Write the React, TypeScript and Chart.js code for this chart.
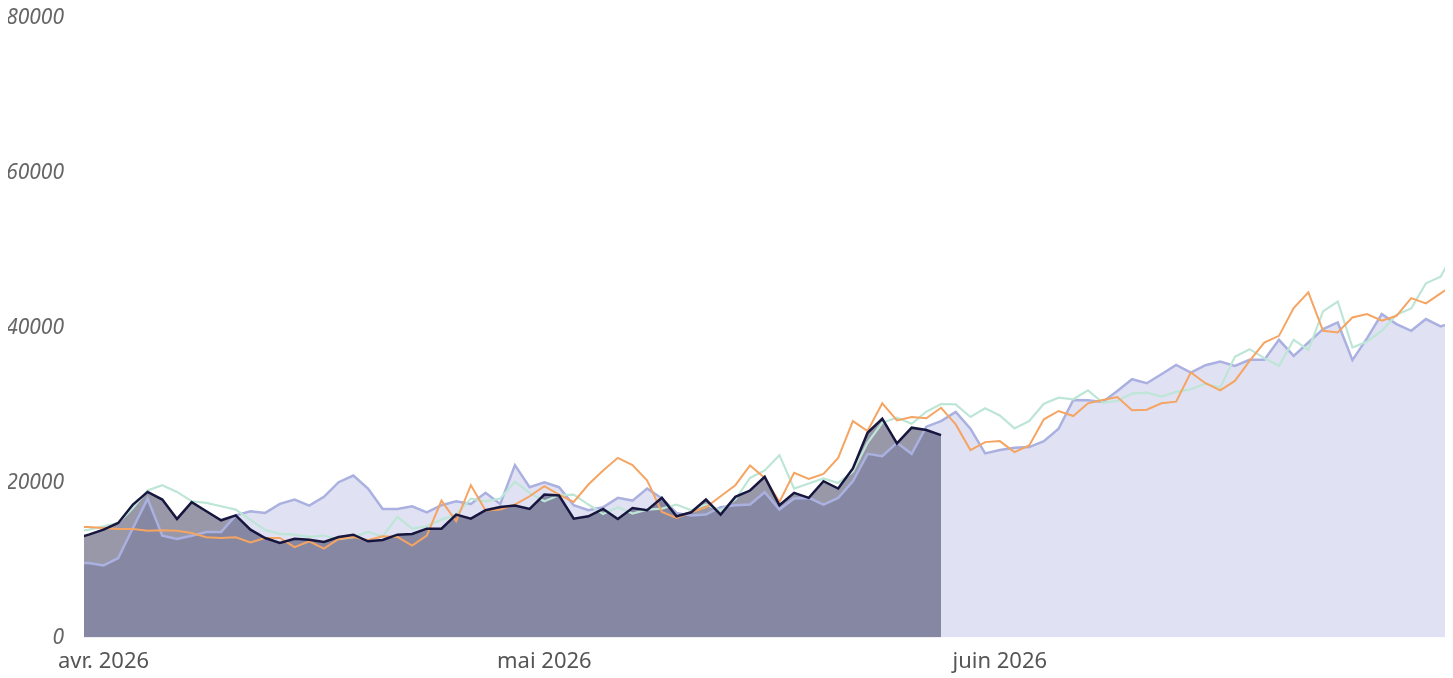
import React, { useEffect, useRef } from 'react';
import { Chart, registerables } from 'chart.js';

Chart.register(...registerables);

// Day offsets are counted from 1 April 2026 (day 0); first sample is 30 March 2026.
const FIRST_DAY = -2;
const MONTH_TICK_DAYS = [0, 30, 61];
const MONTH_TICK_LABELS = ['avr. 2026', 'mai 2026', 'juin 2026'];
const Y_TICKS = [0, 20000, 40000, 60000, 80000];
const X_RANGE = [-1.33, 91.3];

const ACTUAL = [
  12800, 13290, 13940, 14800, 17180, 18810, 17820, 15320, 17480, 16310,
  15150, 15790, 13940, 12860, 12210, 12770, 12640, 12340, 12990, 13290,
  12430, 12600, 13290, 13380, 14070, 14070, 15880, 15360, 16440, 16870,
  17050, 16610, 18470, 18340, 15360, 15660, 16610, 15320, 16740, 16440,
  18040, 15660, 16180, 17820, 15880, 18170, 18990, 20760, 17090, 18690,
  18040, 20190, 19250, 21840, 26450, 28260, 25070, 27100, 26800, 26150,
];

const FORECAST = [
  9620, 9620, 9320, 10270, 14150, 17910, 13160, 12730, 13160, 13640,
  13640, 15790, 16310, 16100, 17260, 17820, 17050, 18170, 20060, 20930,
  19250, 16610, 16610, 16960, 16180, 17090, 17600, 17260, 18690, 17260,
  22270, 19420, 20060, 19420, 17090, 16440, 16830, 18040, 17690, 19250,
  17950, 16100, 15750, 15880, 16830, 17090, 17180, 18770, 16530, 17950,
  18040, 17180, 18040, 20190, 23730, 23430, 25150, 23730, 27230, 27960,
  29150, 26970, 23780, 24210, 24510, 24600, 25370, 26970, 30680, 30640,
  30420, 31850, 33360, 32840, 34000, 35210, 34220, 35170, 35640, 35080,
  35860, 35860, 38450, 36370, 38100, 39830, 40690, 35820, 38670, 41770,
  40480, 39610, 41130, 40170, 40820,
];

const ORANGE_SERIES = [
  14280, 14280, 14150, 14020, 14020, 13810, 13850, 13810, 13510, 12950,
  12860, 12950, 12300, 12860, 12860, 11690, 12430, 11480, 12730, 12990,
  12560, 13070, 12990, 11870, 13160, 17690, 15020, 19680, 16400, 16530,
  17180, 18250, 19550, 18470, 17520, 19770, 21580, 23210, 22270, 20280,
  16220, 15440, 16180, 16830, 18250, 19680, 22230, 20620, 17520, 21270,
  20490, 21140, 23210, 27960, 26670, 30250, 28050, 28480, 28310, 29680,
  27530, 24210, 25240, 25370, 23950, 24810, 28180, 29260, 28610, 30250,
  30680, 31070, 29350, 29430, 30250, 30460, 34220, 32840, 31930, 33140,
  35730, 38100, 38960, 42550, 44570, 39610, 39390, 41330, 41770, 40910,
  41550, 43840, 43150, 44440, 45740,
];

const GREEN_SERIES = [
  13600, 13940, 14370, 14800, 16740, 18990, 19680, 18810, 17600, 17390,
  16960, 16530, 15200, 13900, 13400, 13300, 13000, 13180, 12700, 12960,
  13640, 13070, 15580, 14070, 14370, 15230, 15880, 17950, 17600, 17950,
  20110, 18690, 17600, 18380, 18470, 17180, 15960, 16830, 16010, 16530,
  16660, 17180, 16440, 17180, 16400, 17820, 20620, 21580, 23560, 19250,
  19900, 20540, 19970, 21400, 25150, 27740, 28390, 27610, 29170, 30160,
  30120, 28480, 29600, 28690, 27010, 27960, 30200, 30980, 30770, 31930,
  30330, 30550, 31500, 31630, 31110, 31720, 32060, 32790, 32270, 36250,
  37240, 36080, 35080, 38450, 37150, 42110, 43400, 37450, 38230, 39610,
  41680, 42500, 45740, 46600, 50000,
];

const toPoints = (vals: number[]) => vals.map((v, i) => ({ x: FIRST_DAY + i, y: v }));

const FONT = '"Noto Sans", "Open Sans", sans-serif';

export default function App() {
  const ref = useRef<HTMLCanvasElement>(null);
  useEffect(() => {
    if (!ref.current) return;
    const chart = new Chart(ref.current, {
      type: 'line',
      data: {
        datasets: [
          {
            label: 'actual',
            data: toPoints(ACTUAL),
            borderColor: '#16163e',
            backgroundColor: 'rgba(26,26,64,0.45)',
            borderWidth: 2.5,
            fill: 'origin',
            order: 0,
          },
          {
            label: 'orange',
            data: toPoints(ORANGE_SERIES),
            borderColor: '#f5a462',
            borderWidth: 2,
            fill: false,
            order: 1,
          },
          {
            label: 'green',
            data: toPoints(GREEN_SERIES),
            borderColor: '#bde6d6',
            borderWidth: 2.2,
            fill: false,
            order: 2,
          },
          {
            label: 'forecast',
            data: toPoints(FORECAST),
            borderColor: '#aab0e0',
            backgroundColor: 'rgba(165,170,220,0.35)',
            borderWidth: 2.5,
            fill: 'origin',
            order: 3,
          },
        ],
      },
      options: {
        animation: false,
        responsive: true,
        maintainAspectRatio: false,
        elements: { point: { radius: 0 }, line: { tension: 0 } },
        plugins: {
          legend: { display: false },
          tooltip: { enabled: false },
          filler: { drawTime: 'beforeDatasetsDraw' },
        },
        scales: {
          x: {
            type: 'linear',
            min: X_RANGE[0],
            max: X_RANGE[1],
            afterBuildTicks: (s: any) => {
              s.ticks = MONTH_TICK_DAYS.map((v) => ({ value: v }));
            },
            grid: { display: false },
            border: { display: false },
            ticks: {
              autoSkip: false,
              maxRotation: 0,
              color: '#555',
              font: { family: FONT, size: 22 },
              callback: (v: any) => {
                const i = MONTH_TICK_DAYS.indexOf(Number(v));
                return i >= 0 ? MONTH_TICK_LABELS[i] : '';
              },
            },
          },
          y: {
            min: 0,
            max: 80000,
            afterBuildTicks: (s: any) => {
              s.ticks = Y_TICKS.map((v) => ({ value: v }));
            },
            afterFit: (s: any) => {
              s.width = 76;
              s.paddingTop = 10;
            },
            grid: { display: false },
            border: { display: false },
            ticks: {
              color: '#666',
              padding: 12,
              font: { family: FONT, size: 21, style: 'italic' },
              callback: (v: any) => String(v),
            },
          },
        },
      },
    });
    return () => chart.destroy();
  }, []);
  return (
    <div style={{ position: 'relative', height: 670 }}>
      <canvas ref={ref} />
    </div>
  );
}
